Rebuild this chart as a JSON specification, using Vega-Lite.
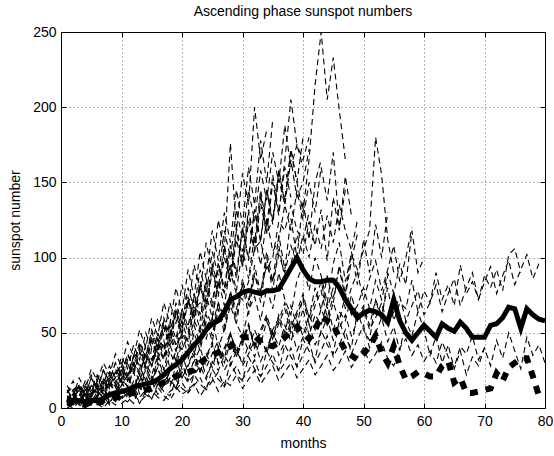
{
  "$schema": "https://vega.github.io/schema/vega-lite/v6.json",
  "width": 484,
  "height": 376,
  "autosize": {"type": "none"},
  "padding": {"left": 61, "top": 32, "right": 9, "bottom": 48},
  "background": "white",
  "config": {
    "font": "Liberation Sans",
    "view": {"stroke": "black", "strokeWidth": 1}
  },
  "title": {
    "text": "Ascending phase sunspot numbers",
    "fontSize": 14,
    "fontWeight": "normal",
    "color": "black",
    "anchor": "middle",
    "offset": 6
  },
  "datasets": {
    "cycles": [
      {"c":1,"m":1,"v":8},{"c":1,"m":2,"v":5},{"c":1,"m":3,"v":14},{"c":1,"m":4,"v":3},{"c":1,"m":5,"v":10},{"c":1,"m":6,"v":12},{"c":1,"m":7,"v":6},{"c":1,"m":8,"v":18},{"c":1,"m":9,"v":9},{"c":1,"m":10,"v":15},
      {"c":1,"m":11,"v":22},{"c":1,"m":12,"v":12},{"c":1,"m":13,"v":18},{"c":1,"m":14,"v":25},{"c":1,"m":15,"v":16},{"c":1,"m":16,"v":30},{"c":1,"m":17,"v":21},{"c":1,"m":18,"v":14},{"c":1,"m":19,"v":28},{"c":1,"m":20,"v":35},
      {"c":1,"m":21,"v":24},{"c":1,"m":22,"v":31},{"c":1,"m":23,"v":40},{"c":1,"m":24,"v":27},{"c":1,"m":25,"v":36},{"c":1,"m":26,"v":45},{"c":1,"m":27,"v":33},{"c":1,"m":28,"v":50},{"c":1,"m":29,"v":38},{"c":1,"m":30,"v":42},
      {"c":1,"m":31,"v":55},{"c":1,"m":32,"v":40},{"c":1,"m":33,"v":48},{"c":1,"m":34,"v":36},{"c":1,"m":35,"v":52},{"c":1,"m":36,"v":60},{"c":1,"m":37,"v":45},{"c":1,"m":38,"v":58},{"c":1,"m":39,"v":50},{"c":1,"m":40,"v":66},
      {"c":1,"m":41,"v":48},{"c":1,"m":42,"v":62},{"c":1,"m":43,"v":55},{"c":1,"m":44,"v":70},{"c":1,"m":45,"v":52},{"c":1,"m":46,"v":64},{"c":1,"m":47,"v":58},{"c":1,"m":48,"v":75},{"c":1,"m":49,"v":60},{"c":1,"m":50,"v":68},
      {"c":1,"m":51,"v":55},{"c":1,"m":52,"v":72},{"c":1,"m":53,"v":62},{"c":1,"m":54,"v":80},{"c":1,"m":55,"v":58},{"c":1,"m":56,"v":70},{"c":1,"m":57,"v":66},{"c":1,"m":58,"v":85},{"c":1,"m":59,"v":64},{"c":1,"m":60,"v":78},
      {"c":1,"m":61,"v":70},{"c":1,"m":62,"v":90},{"c":1,"m":63,"v":72},{"c":1,"m":64,"v":82},{"c":1,"m":65,"v":68},{"c":1,"m":66,"v":95},{"c":1,"m":67,"v":76},{"c":1,"m":68,"v":84},{"c":1,"m":69,"v":72},{"c":1,"m":70,"v":88},
      {"c":1,"m":71,"v":80},{"c":1,"m":72,"v":92},{"c":1,"m":73,"v":78},{"c":1,"m":74,"v":102},{"c":1,"m":75,"v":106},{"c":1,"m":76,"v":90},

      {"c":2,"m":1,"v":3},{"c":2,"m":2,"v":8},{"c":2,"m":3,"v":12},{"c":2,"m":4,"v":6},{"c":2,"m":5,"v":15},{"c":2,"m":6,"v":10},{"c":2,"m":7,"v":20},{"c":2,"m":8,"v":14},{"c":2,"m":9,"v":26},{"c":2,"m":10,"v":18},
      {"c":2,"m":11,"v":32},{"c":2,"m":12,"v":24},{"c":2,"m":13,"v":40},{"c":2,"m":14,"v":30},{"c":2,"m":15,"v":48},{"c":2,"m":16,"v":36},{"c":2,"m":17,"v":56},{"c":2,"m":18,"v":44},{"c":2,"m":19,"v":65},{"c":2,"m":20,"v":52},
      {"c":2,"m":21,"v":74},{"c":2,"m":22,"v":60},{"c":2,"m":23,"v":84},{"c":2,"m":24,"v":70},{"c":2,"m":25,"v":96},{"c":2,"m":26,"v":80},{"c":2,"m":27,"v":108},{"c":2,"m":28,"v":90},{"c":2,"m":29,"v":120},{"c":2,"m":30,"v":100},
      {"c":2,"m":31,"v":132},{"c":2,"m":32,"v":110},{"c":2,"m":33,"v":145},{"c":2,"m":34,"v":120},{"c":2,"m":35,"v":155},{"c":2,"m":36,"v":130},{"c":2,"m":37,"v":160},{"c":2,"m":38,"v":140},

      {"c":3,"m":1,"v":15},{"c":3,"m":2,"v":8},{"c":3,"m":3,"v":20},{"c":3,"m":4,"v":12},{"c":3,"m":5,"v":26},{"c":3,"m":6,"v":18},{"c":3,"m":7,"v":30},{"c":3,"m":8,"v":22},{"c":3,"m":9,"v":36},{"c":3,"m":10,"v":28},
      {"c":3,"m":11,"v":44},{"c":3,"m":12,"v":34},{"c":3,"m":13,"v":52},{"c":3,"m":14,"v":40},{"c":3,"m":15,"v":60},{"c":3,"m":16,"v":48},{"c":3,"m":17,"v":70},{"c":3,"m":18,"v":56},{"c":3,"m":19,"v":80},{"c":3,"m":20,"v":64},
      {"c":3,"m":21,"v":92},{"c":3,"m":22,"v":74},{"c":3,"m":23,"v":104},{"c":3,"m":24,"v":86},{"c":3,"m":25,"v":118},{"c":3,"m":26,"v":98},{"c":3,"m":27,"v":130},{"c":3,"m":28,"v":110},{"c":3,"m":29,"v":145},{"c":3,"m":30,"v":122},
      {"c":3,"m":31,"v":160},{"c":3,"m":32,"v":135},{"c":3,"m":33,"v":178},{"c":3,"m":34,"v":150},{"c":3,"m":35,"v":192},

      {"c":4,"m":1,"v":5},{"c":4,"m":2,"v":12},{"c":4,"m":3,"v":14},{"c":4,"m":4,"v":8},{"c":4,"m":5,"v":10},{"c":4,"m":6,"v":20},{"c":4,"m":7,"v":17},{"c":4,"m":8,"v":24},{"c":4,"m":9,"v":18},{"c":4,"m":10,"v":15},
      {"c":4,"m":11,"v":22},{"c":4,"m":12,"v":34},{"c":4,"m":13,"v":38},{"c":4,"m":14,"v":26},{"c":4,"m":15,"v":30},{"c":4,"m":16,"v":46},{"c":4,"m":17,"v":41},{"c":4,"m":18,"v":52},{"c":4,"m":19,"v":42},{"c":4,"m":20,"v":39},
      {"c":4,"m":21,"v":48},{"c":4,"m":22,"v":66},{"c":4,"m":23,"v":70},{"c":4,"m":24,"v":54},{"c":4,"m":25,"v":60},{"c":4,"m":26,"v":82},{"c":4,"m":27,"v":77},{"c":4,"m":28,"v":90},{"c":4,"m":29,"v":76},{"c":4,"m":30,"v":72},
      {"c":4,"m":31,"v":84},{"c":4,"m":32,"v":106},{"c":4,"m":33,"v":111},{"c":4,"m":34,"v":92},{"c":4,"m":35,"v":100},{"c":4,"m":36,"v":124},{"c":4,"m":37,"v":118},{"c":4,"m":38,"v":135},{"c":4,"m":39,"v":118},{"c":4,"m":40,"v":112},{"c":4,"m":41,"v":130},

      {"c":5,"m":1,"v":0},{"c":5,"m":2,"v":2},{"c":5,"m":3,"v":5},{"c":5,"m":4,"v":1},{"c":5,"m":5,"v":3},{"c":5,"m":6,"v":6},{"c":5,"m":7,"v":2},{"c":5,"m":8,"v":4},{"c":5,"m":9,"v":8},{"c":5,"m":10,"v":3},
      {"c":5,"m":11,"v":6},{"c":5,"m":12,"v":10},{"c":5,"m":13,"v":4},{"c":5,"m":14,"v":8},{"c":5,"m":15,"v":12},{"c":5,"m":16,"v":7},{"c":5,"m":17,"v":5},{"c":5,"m":18,"v":11},{"c":5,"m":19,"v":14},{"c":5,"m":20,"v":9},
      {"c":5,"m":21,"v":12},{"c":5,"m":22,"v":16},{"c":5,"m":23,"v":8},{"c":5,"m":24,"v":14},{"c":5,"m":25,"v":20},{"c":5,"m":26,"v":11},{"c":5,"m":27,"v":18},{"c":5,"m":28,"v":15},{"c":5,"m":29,"v":22},{"c":5,"m":30,"v":13},
      {"c":5,"m":31,"v":19},{"c":5,"m":32,"v":25},{"c":5,"m":33,"v":16},{"c":5,"m":34,"v":22},{"c":5,"m":35,"v":28},{"c":5,"m":36,"v":18},{"c":5,"m":37,"v":24},{"c":5,"m":38,"v":30},{"c":5,"m":39,"v":20},{"c":5,"m":40,"v":26},
      {"c":5,"m":41,"v":32},{"c":5,"m":42,"v":22},{"c":5,"m":43,"v":28},{"c":5,"m":44,"v":35},{"c":5,"m":45,"v":25},{"c":5,"m":46,"v":30},{"c":5,"m":47,"v":38},{"c":5,"m":48,"v":27},{"c":5,"m":49,"v":34},{"c":5,"m":50,"v":40},
      {"c":5,"m":51,"v":30},{"c":5,"m":52,"v":36},{"c":5,"m":53,"v":44},{"c":5,"m":54,"v":33},{"c":5,"m":55,"v":28},{"c":5,"m":56,"v":40},{"c":5,"m":57,"v":46},{"c":5,"m":58,"v":35},{"c":5,"m":59,"v":42},{"c":5,"m":60,"v":31},
      {"c":5,"m":61,"v":38},{"c":5,"m":62,"v":30},{"c":5,"m":63,"v":44},{"c":5,"m":64,"v":34},{"c":5,"m":65,"v":27},{"c":5,"m":66,"v":41},{"c":5,"m":67,"v":36},{"c":5,"m":68,"v":48},{"c":5,"m":69,"v":32},{"c":5,"m":70,"v":40},
      {"c":5,"m":71,"v":28},{"c":5,"m":72,"v":45},{"c":5,"m":73,"v":33},{"c":5,"m":74,"v":50},{"c":5,"m":75,"v":38},{"c":5,"m":76,"v":26},{"c":5,"m":77,"v":47},{"c":5,"m":78,"v":35},{"c":5,"m":79,"v":42},{"c":5,"m":80,"v":30},

      {"c":6,"m":1,"v":2},{"c":6,"m":2,"v":0},{"c":6,"m":3,"v":4},{"c":6,"m":4,"v":1},{"c":6,"m":5,"v":6},{"c":6,"m":6,"v":3},{"c":6,"m":7,"v":0},{"c":6,"m":8,"v":5},{"c":6,"m":9,"v":2},{"c":6,"m":10,"v":7},
      {"c":6,"m":11,"v":4},{"c":6,"m":12,"v":9},{"c":6,"m":13,"v":3},{"c":6,"m":14,"v":11},{"c":6,"m":15,"v":6},{"c":6,"m":16,"v":14},{"c":6,"m":17,"v":8},{"c":6,"m":18,"v":5},{"c":6,"m":19,"v":12},{"c":6,"m":20,"v":17},
      {"c":6,"m":21,"v":10},{"c":6,"m":22,"v":15},{"c":6,"m":23,"v":20},{"c":6,"m":24,"v":12},{"c":6,"m":25,"v":18},{"c":6,"m":26,"v":24},{"c":6,"m":27,"v":14},{"c":6,"m":28,"v":22},{"c":6,"m":29,"v":28},{"c":6,"m":30,"v":19},
      {"c":6,"m":31,"v":25},{"c":6,"m":32,"v":32},{"c":6,"m":33,"v":21},{"c":6,"m":34,"v":28},{"c":6,"m":35,"v":36},{"c":6,"m":36,"v":24},{"c":6,"m":37,"v":30},{"c":6,"m":38,"v":40},{"c":6,"m":39,"v":27},{"c":6,"m":40,"v":35},
      {"c":6,"m":41,"v":44},{"c":6,"m":42,"v":30},{"c":6,"m":43,"v":38},{"c":6,"m":44,"v":48},{"c":6,"m":45,"v":34},{"c":6,"m":46,"v":42},{"c":6,"m":47,"v":52},{"c":6,"m":48,"v":36},{"c":6,"m":49,"v":46},{"c":6,"m":50,"v":55},
      {"c":6,"m":51,"v":40},{"c":6,"m":52,"v":50},{"c":6,"m":53,"v":60},{"c":6,"m":54,"v":44},{"c":6,"m":55,"v":54},{"c":6,"m":56,"v":38},{"c":6,"m":57,"v":58},{"c":6,"m":58,"v":48},{"c":6,"m":59,"v":64},{"c":6,"m":60,"v":52},
      {"c":6,"m":61,"v":35},{"c":6,"m":62,"v":48},{"c":6,"m":63,"v":30},{"c":6,"m":64,"v":42},{"c":6,"m":65,"v":26},{"c":6,"m":66,"v":38},{"c":6,"m":67,"v":22},{"c":6,"m":68,"v":34},{"c":6,"m":69,"v":28},{"c":6,"m":70,"v":40},

      {"c":7,"m":1,"v":12},{"c":7,"m":2,"v":6},{"c":7,"m":3,"v":15},{"c":7,"m":4,"v":9},{"c":7,"m":5,"v":4},{"c":7,"m":6,"v":11},{"c":7,"m":7,"v":7},{"c":7,"m":8,"v":16},{"c":7,"m":9,"v":10},{"c":7,"m":10,"v":13},
      {"c":7,"m":11,"v":8},{"c":7,"m":12,"v":18},{"c":7,"m":13,"v":14},{"c":7,"m":14,"v":22},{"c":7,"m":15,"v":11},{"c":7,"m":16,"v":19},{"c":7,"m":17,"v":26},{"c":7,"m":18,"v":15},{"c":7,"m":19,"v":23},{"c":7,"m":20,"v":30},
      {"c":7,"m":21,"v":18},{"c":7,"m":22,"v":27},{"c":7,"m":23,"v":34},{"c":7,"m":24,"v":21},{"c":7,"m":25,"v":30},{"c":7,"m":26,"v":38},{"c":7,"m":27,"v":25},{"c":7,"m":28,"v":33},{"c":7,"m":29,"v":42},{"c":7,"m":30,"v":28},
      {"c":7,"m":31,"v":36},{"c":7,"m":32,"v":45},{"c":7,"m":33,"v":31},{"c":7,"m":34,"v":40},{"c":7,"m":35,"v":50},{"c":7,"m":36,"v":35},{"c":7,"m":37,"v":44},{"c":7,"m":38,"v":54},{"c":7,"m":39,"v":38},{"c":7,"m":40,"v":47},
      {"c":7,"m":41,"v":56},{"c":7,"m":42,"v":42},{"c":7,"m":43,"v":50},{"c":7,"m":44,"v":60},{"c":7,"m":45,"v":45},{"c":7,"m":46,"v":53},{"c":7,"m":47,"v":62},{"c":7,"m":48,"v":48},{"c":7,"m":49,"v":58},{"c":7,"m":50,"v":66},
      {"c":7,"m":51,"v":52},{"c":7,"m":52,"v":60},{"c":7,"m":53,"v":70},{"c":7,"m":54,"v":55},{"c":7,"m":55,"v":64},{"c":7,"m":56,"v":74},{"c":7,"m":57,"v":58},{"c":7,"m":58,"v":68},{"c":7,"m":59,"v":78},{"c":7,"m":60,"v":62},
      {"c":7,"m":61,"v":70},{"c":7,"m":62,"v":82},{"c":7,"m":63,"v":64},{"c":7,"m":64,"v":76},{"c":7,"m":65,"v":86},{"c":7,"m":66,"v":68},{"c":7,"m":67,"v":80},{"c":7,"m":68,"v":90},{"c":7,"m":69,"v":72},{"c":7,"m":70,"v":84},
      {"c":7,"m":71,"v":94},{"c":7,"m":72,"v":76},{"c":7,"m":73,"v":88},{"c":7,"m":74,"v":98},{"c":7,"m":75,"v":82},{"c":7,"m":76,"v":92},{"c":7,"m":77,"v":102},{"c":7,"m":78,"v":86},{"c":7,"m":79,"v":96},

      {"c":8,"m":1,"v":4},{"c":8,"m":2,"v":10},{"c":8,"m":3,"v":7},{"c":8,"m":4,"v":14},{"c":8,"m":5,"v":9},{"c":8,"m":6,"v":18},{"c":8,"m":7,"v":12},{"c":8,"m":8,"v":22},{"c":8,"m":9,"v":16},{"c":8,"m":10,"v":28},
      {"c":8,"m":11,"v":20},{"c":8,"m":12,"v":34},{"c":8,"m":13,"v":26},{"c":8,"m":14,"v":42},{"c":8,"m":15,"v":32},{"c":8,"m":16,"v":50},{"c":8,"m":17,"v":38},{"c":8,"m":18,"v":58},{"c":8,"m":19,"v":46},{"c":8,"m":20,"v":66},
      {"c":8,"m":21,"v":54},{"c":8,"m":22,"v":76},{"c":8,"m":23,"v":62},{"c":8,"m":24,"v":86},{"c":8,"m":25,"v":70},{"c":8,"m":26,"v":96},{"c":8,"m":27,"v":80},{"c":8,"m":28,"v":108},{"c":8,"m":29,"v":90},{"c":8,"m":30,"v":120},
      {"c":8,"m":31,"v":100},{"c":8,"m":32,"v":132},{"c":8,"m":33,"v":112},{"c":8,"m":34,"v":145},{"c":8,"m":35,"v":125},{"c":8,"m":36,"v":158},{"c":8,"m":37,"v":138},{"c":8,"m":38,"v":172},{"c":8,"m":39,"v":150},{"c":8,"m":40,"v":180},

      {"c":9,"m":1,"v":10},{"c":9,"m":2,"v":18},{"c":9,"m":3,"v":8},{"c":9,"m":4,"v":15},{"c":9,"m":5,"v":22},{"c":9,"m":6,"v":12},{"c":9,"m":7,"v":25},{"c":9,"m":8,"v":16},{"c":9,"m":9,"v":20},{"c":9,"m":10,"v":30},
      {"c":9,"m":11,"v":22},{"c":9,"m":12,"v":35},{"c":9,"m":13,"v":28},{"c":9,"m":14,"v":18},{"c":9,"m":15,"v":40},{"c":9,"m":16,"v":32},{"c":9,"m":17,"v":45},{"c":9,"m":18,"v":26},{"c":9,"m":19,"v":38},{"c":9,"m":20,"v":50},
      {"c":9,"m":21,"v":42},{"c":9,"m":22,"v":34},{"c":9,"m":23,"v":55},{"c":9,"m":24,"v":46},{"c":9,"m":25,"v":60},{"c":9,"m":26,"v":40},{"c":9,"m":27,"v":52},{"c":9,"m":28,"v":68},{"c":9,"m":29,"v":56},{"c":9,"m":30,"v":48},
      {"c":9,"m":31,"v":65},{"c":9,"m":32,"v":74},{"c":9,"m":33,"v":58},{"c":9,"m":34,"v":80},{"c":9,"m":35,"v":66},{"c":9,"m":36,"v":90},{"c":9,"m":37,"v":72},{"c":9,"m":38,"v":62},{"c":9,"m":39,"v":85},{"c":9,"m":40,"v":95},
      {"c":9,"m":41,"v":78},{"c":9,"m":42,"v":100},{"c":9,"m":43,"v":88},{"c":9,"m":44,"v":70},{"c":9,"m":45,"v":96},{"c":9,"m":46,"v":110},{"c":9,"m":47,"v":84},{"c":9,"m":48,"v":102},{"c":9,"m":49,"v":92},{"c":9,"m":50,"v":105},
      {"c":9,"m":51,"v":118},{"c":9,"m":52,"v":180},{"c":9,"m":53,"v":155},{"c":9,"m":54,"v":112},{"c":9,"m":55,"v":90},

      {"c":10,"m":1,"v":5},{"c":10,"m":2,"v":2},{"c":10,"m":3,"v":9},{"c":10,"m":4,"v":4},{"c":10,"m":5,"v":12},{"c":10,"m":6,"v":7},{"c":10,"m":7,"v":15},{"c":10,"m":8,"v":3},{"c":10,"m":9,"v":10},{"c":10,"m":10,"v":18},
      {"c":10,"m":11,"v":8},{"c":10,"m":12,"v":14},{"c":10,"m":13,"v":22},{"c":10,"m":14,"v":11},{"c":10,"m":15,"v":19},{"c":10,"m":16,"v":27},{"c":10,"m":17,"v":16},{"c":10,"m":18,"v":24},{"c":10,"m":19,"v":33},{"c":10,"m":20,"v":20},
      {"c":10,"m":21,"v":29},{"c":10,"m":22,"v":38},{"c":10,"m":23,"v":25},{"c":10,"m":24,"v":34},{"c":10,"m":25,"v":44},{"c":10,"m":26,"v":30},{"c":10,"m":27,"v":40},{"c":10,"m":28,"v":50},{"c":10,"m":29,"v":36},{"c":10,"m":30,"v":46},
      {"c":10,"m":31,"v":56},{"c":10,"m":32,"v":42},{"c":10,"m":33,"v":52},{"c":10,"m":34,"v":62},{"c":10,"m":35,"v":48},{"c":10,"m":36,"v":58},{"c":10,"m":37,"v":70},{"c":10,"m":38,"v":54},{"c":10,"m":39,"v":64},{"c":10,"m":40,"v":76},
      {"c":10,"m":41,"v":60},{"c":10,"m":42,"v":72},{"c":10,"m":43,"v":84},{"c":10,"m":44,"v":66},{"c":10,"m":45,"v":80},{"c":10,"m":46,"v":92},{"c":10,"m":47,"v":74},{"c":10,"m":48,"v":98},{"c":10,"m":49,"v":116},

      {"c":11,"m":1,"v":2},{"c":11,"m":2,"v":7},{"c":11,"m":3,"v":12},{"c":11,"m":4,"v":5},{"c":11,"m":5,"v":15},{"c":11,"m":6,"v":9},{"c":11,"m":7,"v":19},{"c":11,"m":8,"v":13},{"c":11,"m":9,"v":24},{"c":11,"m":10,"v":17},
      {"c":11,"m":11,"v":30},{"c":11,"m":12,"v":22},{"c":11,"m":13,"v":37},{"c":11,"m":14,"v":28},{"c":11,"m":15,"v":45},{"c":11,"m":16,"v":34},{"c":11,"m":17,"v":54},{"c":11,"m":18,"v":41},{"c":11,"m":19,"v":63},{"c":11,"m":20,"v":48},
      {"c":11,"m":21,"v":72},{"c":11,"m":22,"v":56},{"c":11,"m":23,"v":82},{"c":11,"m":24,"v":65},{"c":11,"m":25,"v":94},{"c":11,"m":26,"v":74},{"c":11,"m":27,"v":106},{"c":11,"m":28,"v":84},{"c":11,"m":29,"v":118},{"c":11,"m":30,"v":95},
      {"c":11,"m":31,"v":130},{"c":11,"m":32,"v":105},{"c":11,"m":33,"v":142},{"c":11,"m":34,"v":116},{"c":11,"m":35,"v":125},{"c":11,"m":36,"v":152},{"c":11,"m":37,"v":135},{"c":11,"m":38,"v":165},{"c":11,"m":39,"v":140},{"c":11,"m":40,"v":150},{"c":11,"m":41,"v":172},

      {"c":12,"m":1,"v":3},{"c":12,"m":2,"v":7},{"c":12,"m":3,"v":1},{"c":12,"m":4,"v":5},{"c":12,"m":5,"v":9},{"c":12,"m":6,"v":4},{"c":12,"m":7,"v":8},{"c":12,"m":8,"v":2},{"c":12,"m":9,"v":11},{"c":12,"m":10,"v":6},
      {"c":12,"m":11,"v":10},{"c":12,"m":12,"v":14},{"c":12,"m":13,"v":7},{"c":12,"m":14,"v":12},{"c":12,"m":15,"v":18},{"c":12,"m":16,"v":9},{"c":12,"m":17,"v":15},{"c":12,"m":18,"v":20},{"c":12,"m":19,"v":13},{"c":12,"m":20,"v":24},
      {"c":12,"m":21,"v":17},{"c":12,"m":22,"v":22},{"c":12,"m":23,"v":28},{"c":12,"m":24,"v":19},{"c":12,"m":25,"v":31},{"c":12,"m":26,"v":25},{"c":12,"m":27,"v":35},{"c":12,"m":28,"v":28},{"c":12,"m":29,"v":38},{"c":12,"m":30,"v":30},
      {"c":12,"m":31,"v":42},{"c":12,"m":32,"v":34},{"c":12,"m":33,"v":46},{"c":12,"m":34,"v":38},{"c":12,"m":35,"v":50},{"c":12,"m":36,"v":41},{"c":12,"m":37,"v":55},{"c":12,"m":38,"v":44},{"c":12,"m":39,"v":58},{"c":12,"m":40,"v":48},
      {"c":12,"m":41,"v":62},{"c":12,"m":42,"v":52},{"c":12,"m":43,"v":66},{"c":12,"m":44,"v":55},{"c":12,"m":45,"v":70},{"c":12,"m":46,"v":58},{"c":12,"m":47,"v":75},{"c":12,"m":48,"v":62},{"c":12,"m":49,"v":68},{"c":12,"m":50,"v":80},
      {"c":12,"m":51,"v":66},{"c":12,"m":52,"v":85},{"c":12,"m":53,"v":72},{"c":12,"m":54,"v":90},{"c":12,"m":55,"v":76},{"c":12,"m":56,"v":96},{"c":12,"m":57,"v":82},{"c":12,"m":58,"v":118},{"c":12,"m":59,"v":90},{"c":12,"m":60,"v":100},

      {"c":13,"m":1,"v":2},{"c":13,"m":2,"v":6},{"c":13,"m":3,"v":4},{"c":13,"m":4,"v":9},{"c":13,"m":5,"v":3},{"c":13,"m":6,"v":8},{"c":13,"m":7,"v":12},{"c":13,"m":8,"v":5},{"c":13,"m":9,"v":10},{"c":13,"m":10,"v":7},
      {"c":13,"m":11,"v":14},{"c":13,"m":12,"v":9},{"c":13,"m":13,"v":17},{"c":13,"m":14,"v":12},{"c":13,"m":15,"v":21},{"c":13,"m":16,"v":15},{"c":13,"m":17,"v":25},{"c":13,"m":18,"v":18},{"c":13,"m":19,"v":13},{"c":13,"m":20,"v":28},
      {"c":13,"m":21,"v":20},{"c":13,"m":22,"v":32},{"c":13,"m":23,"v":24},{"c":13,"m":24,"v":36},{"c":13,"m":25,"v":27},{"c":13,"m":26,"v":40},{"c":13,"m":27,"v":30},{"c":13,"m":28,"v":44},{"c":13,"m":29,"v":34},{"c":13,"m":30,"v":48},
      {"c":13,"m":31,"v":38},{"c":13,"m":32,"v":52},{"c":13,"m":33,"v":42},{"c":13,"m":34,"v":58},{"c":13,"m":35,"v":46},{"c":13,"m":36,"v":62},{"c":13,"m":37,"v":50},{"c":13,"m":38,"v":68},{"c":13,"m":39,"v":55},{"c":13,"m":40,"v":74},
      {"c":13,"m":41,"v":60},{"c":13,"m":42,"v":80},{"c":13,"m":43,"v":65},{"c":13,"m":44,"v":88},{"c":13,"m":45,"v":70},{"c":13,"m":46,"v":95},{"c":13,"m":47,"v":76},{"c":13,"m":48,"v":104},{"c":13,"m":49,"v":82},{"c":13,"m":50,"v":112},
      {"c":13,"m":51,"v":90},{"c":13,"m":52,"v":122},{"c":13,"m":53,"v":100},{"c":13,"m":54,"v":130},

      {"c":14,"m":1,"v":4},{"c":14,"m":2,"v":1},{"c":14,"m":3,"v":6},{"c":14,"m":4,"v":3},{"c":14,"m":5,"v":8},{"c":14,"m":6,"v":2},{"c":14,"m":7,"v":5},{"c":14,"m":8,"v":10},{"c":14,"m":9,"v":4},{"c":14,"m":10,"v":12},
      {"c":14,"m":11,"v":7},{"c":14,"m":12,"v":3},{"c":14,"m":13,"v":14},{"c":14,"m":14,"v":9},{"c":14,"m":15,"v":6},{"c":14,"m":16,"v":16},{"c":14,"m":17,"v":11},{"c":14,"m":18,"v":8},{"c":14,"m":19,"v":19},{"c":14,"m":20,"v":13},
      {"c":14,"m":21,"v":10},{"c":14,"m":22,"v":22},{"c":14,"m":23,"v":16},{"c":14,"m":24,"v":12},{"c":14,"m":25,"v":26},{"c":14,"m":26,"v":19},{"c":14,"m":27,"v":15},{"c":14,"m":28,"v":30},{"c":14,"m":29,"v":22},{"c":14,"m":30,"v":18},
      {"c":14,"m":31,"v":34},{"c":14,"m":32,"v":26},{"c":14,"m":33,"v":21},{"c":14,"m":34,"v":38},{"c":14,"m":35,"v":30},{"c":14,"m":36,"v":25},{"c":14,"m":37,"v":42},{"c":14,"m":38,"v":34},{"c":14,"m":39,"v":28},{"c":14,"m":40,"v":46},
      {"c":14,"m":41,"v":38},{"c":14,"m":42,"v":32},{"c":14,"m":43,"v":52},{"c":14,"m":44,"v":42},{"c":14,"m":45,"v":36},{"c":14,"m":46,"v":58},{"c":14,"m":47,"v":46},{"c":14,"m":48,"v":40},{"c":14,"m":49,"v":64},{"c":14,"m":50,"v":52},
      {"c":14,"m":51,"v":45},{"c":14,"m":52,"v":72},{"c":14,"m":53,"v":58},{"c":14,"m":54,"v":88},

      {"c":15,"m":1,"v":6},{"c":15,"m":2,"v":12},{"c":15,"m":3,"v":3},{"c":15,"m":4,"v":9},{"c":15,"m":5,"v":15},{"c":15,"m":6,"v":7},{"c":15,"m":7,"v":18},{"c":15,"m":8,"v":11},{"c":15,"m":9,"v":5},{"c":15,"m":10,"v":20},
      {"c":15,"m":11,"v":14},{"c":15,"m":12,"v":24},{"c":15,"m":13,"v":9},{"c":15,"m":14,"v":28},{"c":15,"m":15,"v":18},{"c":15,"m":16,"v":33},{"c":15,"m":17,"v":22},{"c":15,"m":18,"v":38},{"c":15,"m":19,"v":27},{"c":15,"m":20,"v":44},
      {"c":15,"m":21,"v":32},{"c":15,"m":22,"v":50},{"c":15,"m":23,"v":38},{"c":15,"m":24,"v":58},{"c":15,"m":25,"v":44},{"c":15,"m":26,"v":66},{"c":15,"m":27,"v":50},{"c":15,"m":28,"v":74},{"c":15,"m":29,"v":56},{"c":15,"m":30,"v":82},
      {"c":15,"m":31,"v":62},{"c":15,"m":32,"v":90},{"c":15,"m":33,"v":70},{"c":15,"m":34,"v":100},{"c":15,"m":35,"v":78},{"c":15,"m":36,"v":108},{"c":15,"m":37,"v":86},{"c":15,"m":38,"v":95},{"c":15,"m":39,"v":115},{"c":15,"m":40,"v":102},
      {"c":15,"m":41,"v":124},{"c":15,"m":42,"v":108},{"c":15,"m":43,"v":132},{"c":15,"m":44,"v":98},{"c":15,"m":45,"v":140},{"c":15,"m":46,"v":118},{"c":15,"m":47,"v":154},{"c":15,"m":48,"v":128},

      {"c":16,"m":1,"v":3},{"c":16,"m":2,"v":8},{"c":16,"m":3,"v":5},{"c":16,"m":4,"v":11},{"c":16,"m":5,"v":2},{"c":16,"m":6,"v":9},{"c":16,"m":7,"v":14},{"c":16,"m":8,"v":6},{"c":16,"m":9,"v":12},{"c":16,"m":10,"v":18},
      {"c":16,"m":11,"v":9},{"c":16,"m":12,"v":15},{"c":16,"m":13,"v":22},{"c":16,"m":14,"v":12},{"c":16,"m":15,"v":19},{"c":16,"m":16,"v":26},{"c":16,"m":17,"v":16},{"c":16,"m":18,"v":24},{"c":16,"m":19,"v":31},{"c":16,"m":20,"v":20},
      {"c":16,"m":21,"v":28},{"c":16,"m":22,"v":36},{"c":16,"m":23,"v":24},{"c":16,"m":24,"v":33},{"c":16,"m":25,"v":42},{"c":16,"m":26,"v":29},{"c":16,"m":27,"v":38},{"c":16,"m":28,"v":48},{"c":16,"m":29,"v":34},{"c":16,"m":30,"v":44},
      {"c":16,"m":31,"v":54},{"c":16,"m":32,"v":40},{"c":16,"m":33,"v":50},{"c":16,"m":34,"v":60},{"c":16,"m":35,"v":45},{"c":16,"m":36,"v":56},{"c":16,"m":37,"v":66},{"c":16,"m":38,"v":50},{"c":16,"m":39,"v":62},{"c":16,"m":40,"v":72},
      {"c":16,"m":41,"v":56},{"c":16,"m":42,"v":68},{"c":16,"m":43,"v":78},{"c":16,"m":44,"v":60},{"c":16,"m":45,"v":74},{"c":16,"m":46,"v":84},{"c":16,"m":47,"v":66},{"c":16,"m":48,"v":80},{"c":16,"m":49,"v":90},{"c":16,"m":50,"v":72},
      {"c":16,"m":51,"v":86},{"c":16,"m":52,"v":98},{"c":16,"m":53,"v":78},{"c":16,"m":54,"v":92},{"c":16,"m":55,"v":108},{"c":16,"m":56,"v":84},{"c":16,"m":57,"v":100},{"c":16,"m":58,"v":120},

      {"c":17,"m":1,"v":4},{"c":17,"m":2,"v":9},{"c":17,"m":3,"v":2},{"c":17,"m":4,"v":12},{"c":17,"m":5,"v":7},{"c":17,"m":6,"v":15},{"c":17,"m":7,"v":5},{"c":17,"m":8,"v":18},{"c":17,"m":9,"v":10},{"c":17,"m":10,"v":22},
      {"c":17,"m":11,"v":14},{"c":17,"m":12,"v":26},{"c":17,"m":13,"v":18},{"c":17,"m":14,"v":30},{"c":17,"m":15,"v":22},{"c":17,"m":16,"v":35},{"c":17,"m":17,"v":26},{"c":17,"m":18,"v":42},{"c":17,"m":19,"v":31},{"c":17,"m":20,"v":48},
      {"c":17,"m":21,"v":36},{"c":17,"m":22,"v":55},{"c":17,"m":23,"v":42},{"c":17,"m":24,"v":62},{"c":17,"m":25,"v":48},{"c":17,"m":26,"v":70},{"c":17,"m":27,"v":54},{"c":17,"m":28,"v":78},{"c":17,"m":29,"v":60},{"c":17,"m":30,"v":86},
      {"c":17,"m":31,"v":68},{"c":17,"m":32,"v":95},{"c":17,"m":33,"v":76},{"c":17,"m":34,"v":104},{"c":17,"m":35,"v":84},{"c":17,"m":36,"v":115},{"c":17,"m":37,"v":92},{"c":17,"m":38,"v":126},{"c":17,"m":39,"v":100},{"c":17,"m":40,"v":138},
      {"c":17,"m":41,"v":112},{"c":17,"m":42,"v":150},{"c":17,"m":43,"v":165},

      {"c":18,"m":1,"v":5},{"c":18,"m":2,"v":10},{"c":18,"m":3,"v":15},{"c":18,"m":4,"v":8},{"c":18,"m":5,"v":20},{"c":18,"m":6,"v":12},{"c":18,"m":7,"v":25},{"c":18,"m":8,"v":18},{"c":18,"m":9,"v":30},{"c":18,"m":10,"v":22},
      {"c":18,"m":11,"v":35},{"c":18,"m":12,"v":28},{"c":18,"m":13,"v":42},{"c":18,"m":14,"v":34},{"c":18,"m":15,"v":50},{"c":18,"m":16,"v":40},{"c":18,"m":17,"v":58},{"c":18,"m":18,"v":46},{"c":18,"m":19,"v":65},{"c":18,"m":20,"v":54},
      {"c":18,"m":21,"v":72},{"c":18,"m":22,"v":60},{"c":18,"m":23,"v":80},{"c":18,"m":24,"v":68},{"c":18,"m":25,"v":90},{"c":18,"m":26,"v":76},{"c":18,"m":27,"v":100},{"c":18,"m":28,"v":84},{"c":18,"m":29,"v":112},{"c":18,"m":30,"v":94},
      {"c":18,"m":31,"v":124},{"c":18,"m":32,"v":104},{"c":18,"m":33,"v":136},{"c":18,"m":34,"v":116},{"c":18,"m":35,"v":150},{"c":18,"m":36,"v":128},{"c":18,"m":37,"v":165},{"c":18,"m":38,"v":205},{"c":18,"m":39,"v":175},{"c":18,"m":40,"v":160},

      {"c":19,"m":1,"v":2},{"c":19,"m":2,"v":6},{"c":19,"m":3,"v":4},{"c":19,"m":4,"v":10},{"c":19,"m":5,"v":7},{"c":19,"m":6,"v":14},{"c":19,"m":7,"v":9},{"c":19,"m":8,"v":18},{"c":19,"m":9,"v":13},{"c":19,"m":10,"v":24},
      {"c":19,"m":11,"v":17},{"c":19,"m":12,"v":30},{"c":19,"m":13,"v":22},{"c":19,"m":14,"v":38},{"c":19,"m":15,"v":28},{"c":19,"m":16,"v":46},{"c":19,"m":17,"v":34},{"c":19,"m":18,"v":55},{"c":19,"m":19,"v":42},{"c":19,"m":20,"v":64},
      {"c":19,"m":21,"v":50},{"c":19,"m":22,"v":74},{"c":19,"m":23,"v":58},{"c":19,"m":24,"v":84},{"c":19,"m":25,"v":66},{"c":19,"m":26,"v":96},{"c":19,"m":27,"v":76},{"c":19,"m":28,"v":108},{"c":19,"m":29,"v":86},{"c":19,"m":30,"v":120},
      {"c":19,"m":31,"v":98},{"c":19,"m":32,"v":132},{"c":19,"m":33,"v":110},{"c":19,"m":34,"v":145},{"c":19,"m":35,"v":122},{"c":19,"m":36,"v":158},{"c":19,"m":37,"v":136},{"c":19,"m":38,"v":172},{"c":19,"m":39,"v":150},{"c":19,"m":40,"v":130},
      {"c":19,"m":41,"v":165},{"c":19,"m":42,"v":215},{"c":19,"m":43,"v":250},{"c":19,"m":44,"v":205},{"c":19,"m":45,"v":233},{"c":19,"m":46,"v":198},{"c":19,"m":47,"v":165},

      {"c":20,"m":1,"v":8},{"c":20,"m":2,"v":4},{"c":20,"m":3,"v":12},{"c":20,"m":4,"v":15},{"c":20,"m":5,"v":9},{"c":20,"m":6,"v":18},{"c":20,"m":7,"v":13},{"c":20,"m":8,"v":22},{"c":20,"m":9,"v":16},{"c":20,"m":10,"v":26},
      {"c":20,"m":11,"v":20},{"c":20,"m":12,"v":30},{"c":20,"m":13,"v":24},{"c":20,"m":14,"v":35},{"c":20,"m":15,"v":28},{"c":20,"m":16,"v":40},{"c":20,"m":17,"v":32},{"c":20,"m":18,"v":46},{"c":20,"m":19,"v":38},{"c":20,"m":20,"v":52},
      {"c":20,"m":21,"v":44},{"c":20,"m":22,"v":58},{"c":20,"m":23,"v":50},{"c":20,"m":24,"v":64},{"c":20,"m":25,"v":55},{"c":20,"m":26,"v":70},{"c":20,"m":27,"v":60},{"c":20,"m":28,"v":76},{"c":20,"m":29,"v":66},{"c":20,"m":30,"v":82},
      {"c":20,"m":31,"v":72},{"c":20,"m":32,"v":88},{"c":20,"m":33,"v":78},{"c":20,"m":34,"v":95},{"c":20,"m":35,"v":84},{"c":20,"m":36,"v":102},{"c":20,"m":37,"v":90},{"c":20,"m":38,"v":108},{"c":20,"m":39,"v":96},{"c":20,"m":40,"v":115},
      {"c":20,"m":41,"v":100},{"c":20,"m":42,"v":122},{"c":20,"m":43,"v":106},{"c":20,"m":44,"v":128},{"c":20,"m":45,"v":110},{"c":20,"m":46,"v":135},{"c":20,"m":47,"v":118},{"c":20,"m":48,"v":105},{"c":20,"m":49,"v":125},

      {"c":21,"m":1,"v":12},{"c":21,"m":2,"v":6},{"c":21,"m":3,"v":16},{"c":21,"m":4,"v":10},{"c":21,"m":5,"v":20},{"c":21,"m":6,"v":14},{"c":21,"m":7,"v":25},{"c":21,"m":8,"v":18},{"c":21,"m":9,"v":30},{"c":21,"m":10,"v":22},
      {"c":21,"m":11,"v":36},{"c":21,"m":12,"v":28},{"c":21,"m":13,"v":44},{"c":21,"m":14,"v":34},{"c":21,"m":15,"v":52},{"c":21,"m":16,"v":40},{"c":21,"m":17,"v":60},{"c":21,"m":18,"v":48},{"c":21,"m":19,"v":70},{"c":21,"m":20,"v":56},
      {"c":21,"m":21,"v":80},{"c":21,"m":22,"v":66},{"c":21,"m":23,"v":92},{"c":21,"m":24,"v":76},{"c":21,"m":25,"v":104},{"c":21,"m":26,"v":88},{"c":21,"m":27,"v":118},{"c":21,"m":28,"v":100},{"c":21,"m":29,"v":132},{"c":21,"m":30,"v":112},
      {"c":21,"m":31,"v":145},{"c":21,"m":32,"v":124},{"c":21,"m":33,"v":158},{"c":21,"m":34,"v":138},{"c":21,"m":35,"v":170},{"c":21,"m":36,"v":150},{"c":21,"m":37,"v":188},{"c":21,"m":38,"v":160},{"c":21,"m":39,"v":175},{"c":21,"m":40,"v":165},{"c":21,"m":41,"v":180},

      {"c":22,"m":1,"v":10},{"c":22,"m":2,"v":14},{"c":22,"m":3,"v":8},{"c":22,"m":4,"v":18},{"c":22,"m":5,"v":12},{"c":22,"m":6,"v":22},{"c":22,"m":7,"v":16},{"c":22,"m":8,"v":28},{"c":22,"m":9,"v":20},{"c":22,"m":10,"v":34},
      {"c":22,"m":11,"v":26},{"c":22,"m":12,"v":42},{"c":22,"m":13,"v":32},{"c":22,"m":14,"v":50},{"c":22,"m":15,"v":40},{"c":22,"m":16,"v":60},{"c":22,"m":17,"v":48},{"c":22,"m":18,"v":70},{"c":22,"m":19,"v":56},{"c":22,"m":20,"v":82},
      {"c":22,"m":21,"v":66},{"c":22,"m":22,"v":95},{"c":22,"m":23,"v":78},{"c":22,"m":24,"v":110},{"c":22,"m":25,"v":90},{"c":22,"m":26,"v":125},{"c":22,"m":27,"v":104},{"c":22,"m":28,"v":176},{"c":22,"m":29,"v":118},{"c":22,"m":30,"v":156},
      {"c":22,"m":31,"v":135},{"c":22,"m":32,"v":200},{"c":22,"m":33,"v":165},{"c":22,"m":34,"v":185},

      {"c":23,"m":1,"v":6},{"c":23,"m":2,"v":10},{"c":23,"m":3,"v":4},{"c":23,"m":4,"v":12},{"c":23,"m":5,"v":8},{"c":23,"m":6,"v":16},{"c":23,"m":7,"v":10},{"c":23,"m":8,"v":20},{"c":23,"m":9,"v":14},{"c":23,"m":10,"v":25},
      {"c":23,"m":11,"v":18},{"c":23,"m":12,"v":30},{"c":23,"m":13,"v":22},{"c":23,"m":14,"v":36},{"c":23,"m":15,"v":28},{"c":23,"m":16,"v":42},{"c":23,"m":17,"v":33},{"c":23,"m":18,"v":50},{"c":23,"m":19,"v":38},{"c":23,"m":20,"v":58},
      {"c":23,"m":21,"v":44},{"c":23,"m":22,"v":66},{"c":23,"m":23,"v":52},{"c":23,"m":24,"v":75},{"c":23,"m":25,"v":60},{"c":23,"m":26,"v":85},{"c":23,"m":27,"v":68},{"c":23,"m":28,"v":95},{"c":23,"m":29,"v":78},{"c":23,"m":30,"v":106},
      {"c":23,"m":31,"v":86},{"c":23,"m":32,"v":115},{"c":23,"m":33,"v":95},{"c":23,"m":34,"v":126},{"c":23,"m":35,"v":104},{"c":23,"m":36,"v":112},{"c":23,"m":37,"v":135},{"c":23,"m":38,"v":118},{"c":23,"m":39,"v":145},{"c":23,"m":40,"v":125},
      {"c":23,"m":41,"v":150},{"c":23,"m":42,"v":130},{"c":23,"m":43,"v":160},{"c":23,"m":44,"v":138},{"c":23,"m":45,"v":170},{"c":23,"m":46,"v":120},{"c":23,"m":47,"v":145}
    ],
    "mean": [
      {"m":1,"v":6},{"m":2,"v":5},{"m":3,"v":5},{"m":4,"v":4},{"m":5,"v":5},{"m":6,"v":5},{"m":7,"v":6},{"m":8,"v":9},{"m":9,"v":10},{"m":10,"v":11},
      {"m":11,"v":12},{"m":12,"v":14},{"m":13,"v":15},{"m":14,"v":16},{"m":15,"v":17},{"m":16,"v":19},{"m":17,"v":22},{"m":18,"v":26},{"m":19,"v":29},{"m":20,"v":32},
      {"m":21,"v":37},{"m":22,"v":42},{"m":23,"v":46},{"m":24,"v":52},{"m":25,"v":56},{"m":26,"v":58},{"m":27,"v":64},{"m":28,"v":72},{"m":29,"v":74},{"m":30,"v":77},
      {"m":31,"v":78},{"m":32,"v":77},{"m":33,"v":76},{"m":34,"v":78},{"m":35,"v":78},{"m":36,"v":79},{"m":37,"v":86},{"m":38,"v":93},{"m":39,"v":100},{"m":40,"v":92},
      {"m":41,"v":86},{"m":42,"v":84},{"m":43,"v":84},{"m":44,"v":85},{"m":45,"v":85},{"m":46,"v":80},{"m":47,"v":72},{"m":48,"v":66},{"m":49,"v":60},{"m":50,"v":63},
      {"m":51,"v":65},{"m":52,"v":64},{"m":53,"v":62},{"m":54,"v":57},{"m":55,"v":72},{"m":56,"v":58},{"m":57,"v":50},{"m":58,"v":45},{"m":59,"v":50},{"m":60,"v":55},
      {"m":61,"v":51},{"m":62,"v":47},{"m":63,"v":56},{"m":64,"v":53},{"m":65,"v":51},{"m":66,"v":57},{"m":67,"v":53},{"m":68,"v":47},{"m":69,"v":47},{"m":70,"v":47},
      {"m":71,"v":55},{"m":72,"v":56},{"m":73,"v":60},{"m":74,"v":67},{"m":75,"v":66},{"m":76,"v":53},{"m":77,"v":66},{"m":78,"v":62},{"m":79,"v":59},{"m":80,"v":58}
    ],
    "current": [
      {"m":1,"v":3},{"m":2,"v":4},{"m":3,"v":3},{"m":4,"v":2},{"m":5,"v":4},{"m":6,"v":3},{"m":7,"v":5},{"m":8,"v":6},{"m":9,"v":7},{"m":10,"v":8},
      {"m":11,"v":9},{"m":12,"v":10},{"m":13,"v":11},{"m":14,"v":12},{"m":15,"v":13},{"m":16,"v":15},{"m":17,"v":17},{"m":18,"v":19},{"m":19,"v":21},{"m":20,"v":23},
      {"m":21,"v":24},{"m":22,"v":25},{"m":23,"v":30},{"m":24,"v":33},{"m":25,"v":35},{"m":26,"v":37},{"m":27,"v":39},{"m":28,"v":41},{"m":29,"v":44},{"m":30,"v":47},
      {"m":31,"v":47},{"m":32,"v":48},{"m":33,"v":44},{"m":34,"v":42},{"m":35,"v":41},{"m":36,"v":44},{"m":37,"v":47},{"m":38,"v":51},{"m":39,"v":54},{"m":40,"v":50},
      {"m":41,"v":46},{"m":42,"v":52},{"m":43,"v":61},{"m":44,"v":58},{"m":45,"v":56},{"m":46,"v":46},{"m":47,"v":38},{"m":48,"v":35},{"m":49,"v":32},{"m":50,"v":36},
      {"m":51,"v":41},{"m":52,"v":48},{"m":53,"v":37},{"m":54,"v":30},{"m":55,"v":41},{"m":56,"v":28},{"m":57,"v":19},{"m":58,"v":21},{"m":59,"v":24},{"m":60,"v":23},
      {"m":61,"v":21},{"m":62,"v":21},{"m":63,"v":28},{"m":64,"v":31},{"m":65,"v":17},{"m":66,"v":20},{"m":67,"v":10},{"m":68,"v":10},{"m":69,"v":11},{"m":70,"v":12},
      {"m":71,"v":13},{"m":72,"v":23},{"m":73,"v":18},{"m":74,"v":27},{"m":75,"v":30},{"m":76,"v":33},{"m":77,"v":33},{"m":78,"v":21},{"m":79,"v":8}
    ]
  },
  "layer": [
    {
      "data": {"name": "cycles"},
      "mark": {"type": "line", "color": "black", "strokeWidth": 1.1, "strokeDash": [6, 4], "clip": true},
      "encoding": {
        "x": {
          "field": "m", "type": "quantitative",
          "scale": {"domain": [0, 80], "nice": false, "zero": false},
          "axis": {
            "orient": "bottom", "title": "months", "values": [0, 10, 20, 30, 40, 50, 60, 70, 80],
            "labelFontSize": 14, "titleFontSize": 14, "titleFontWeight": "normal",
            "labelColor": "black", "titleColor": "black",
            "labelFlush": false, "labelOverlap": false,
            "tickColor": "black", "tickSize": -5, "labelPadding": 11, "titlePadding": 8,
            "domain": false,
            "grid": true, "gridColor": "black", "gridDash": [1, 3], "gridOpacity": 0.6, "gridWidth": 1
          }
        },
        "y": {
          "field": "v", "type": "quantitative",
          "scale": {"domain": [0, 250], "nice": false},
          "axis": {
            "orient": "left", "title": "sunspot number", "values": [0, 50, 100, 150, 200, 250],
            "labelFontSize": 14, "titleFontSize": 14, "titleFontWeight": "normal",
            "labelColor": "black", "titleColor": "black",
            "labelFlush": false, "labelOverlap": false,
            "tickColor": "black", "tickSize": -5, "labelPadding": 10, "titlePadding": 10,
            "domain": false,
            "grid": true, "gridColor": "black", "gridDash": [1, 3], "gridOpacity": 0.6, "gridWidth": 1
          }
        },
        "detail": {"field": "c", "type": "nominal"}
      }
    },
    {
      "data": {"name": "mean"},
      "mark": {"type": "line", "color": "black", "strokeWidth": 5, "clip": true},
      "encoding": {
        "x": {
          "field": "m", "type": "quantitative",
          "axis": {"orient": "top", "title": null, "labels": false, "grid": false, "domain": false,
                   "values": [0, 10, 20, 30, 40, 50, 60, 70, 80], "tickColor": "black", "tickSize": -5}
        },
        "y": {
          "field": "v", "type": "quantitative",
          "axis": {"orient": "right", "title": null, "labels": false, "grid": false, "domain": false,
                   "values": [0, 50, 100, 150, 200, 250], "tickColor": "black", "tickSize": -5}
        }
      }
    },
    {
      "data": {"name": "current"},
      "mark": {"type": "line", "color": "black", "strokeWidth": 6, "strokeDash": [8, 8], "strokeCap": "butt", "clip": true},
      "encoding": {
        "x": {"field": "m", "type": "quantitative", "axis": null},
        "y": {"field": "v", "type": "quantitative", "axis": null}
      }
    }
  ],
  "resolve": {"axis": {"x": "independent", "y": "independent"}}
}
